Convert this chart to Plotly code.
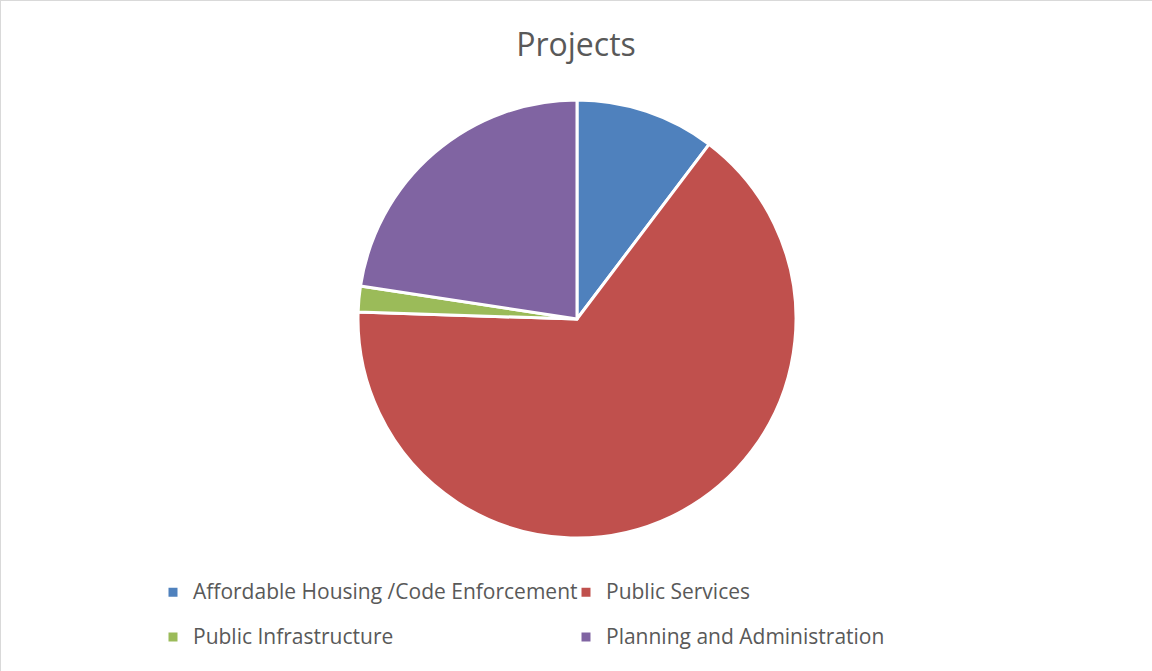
import plotly.graph_objects as go

labels = ["Affordable Housing /Code Enforcement", "Public Services",
          "Public Infrastructure", "Planning and Administration"]
values = [10.3, 65.2, 1.9, 22.6]
colors = ["#4F81BD", "#C0504D", "#9BBB59", "#8064A2"]

W, H = 1152, 671
cx, cy, r = 577, 319, 219
LEG_TXT = 21

legend_names = [
    f'<span style="font-size:14px"><sup><span style="font-size:{LEG_TXT}px">{t}</span></sup></span>'
    for t in labels
]

fig = go.Figure(go.Pie(
    labels=legend_names, values=values, sort=False, direction="clockwise",
    rotation=0, textinfo="none", hovertext=labels, hoverinfo="text+percent",
    marker=dict(colors=colors, line=dict(color="white", width=3)),
    domain=dict(x=[(cx - r) / W, (cx + r) / W], y=[(H - cy - r) / H, (H - cy + r) / H]),
))

fig.update_layout(
    width=W, height=H,
    margin=dict(l=0, r=0, t=0, b=0),
    paper_bgcolor="white",
    font=dict(family="Open Sans, Liberation Sans, sans-serif", color="#595959"),
    title=dict(text="Projects", x=0.5, xanchor="center", y=1 - 45 / H, yanchor="middle",
               font=dict(size=32, color="#595959")),
    showlegend=True,
    legend=dict(orientation="h", x=153 / W, xanchor="left", y=1 - 565 / H, yanchor="top",
                font=dict(size=32, color="#595959"), itemwidth=30,
                traceorder="normal", entrywidth=368),
    shapes=[
        dict(type="line", xref="paper", yref="paper", x0=0, x1=1, y0=1, y1=1,
             line=dict(color="#D9D9D9", width=2)),
        dict(type="line", xref="paper", yref="paper", x0=0, x1=0, y0=0, y1=1,
             line=dict(color="#D9D9D9", width=2)),
    ],
)

fig.write_html("out.html", config={"displayModeBar": False},
               post_script="document.body.style.margin='0';document.body.style.overflow='hidden';")
